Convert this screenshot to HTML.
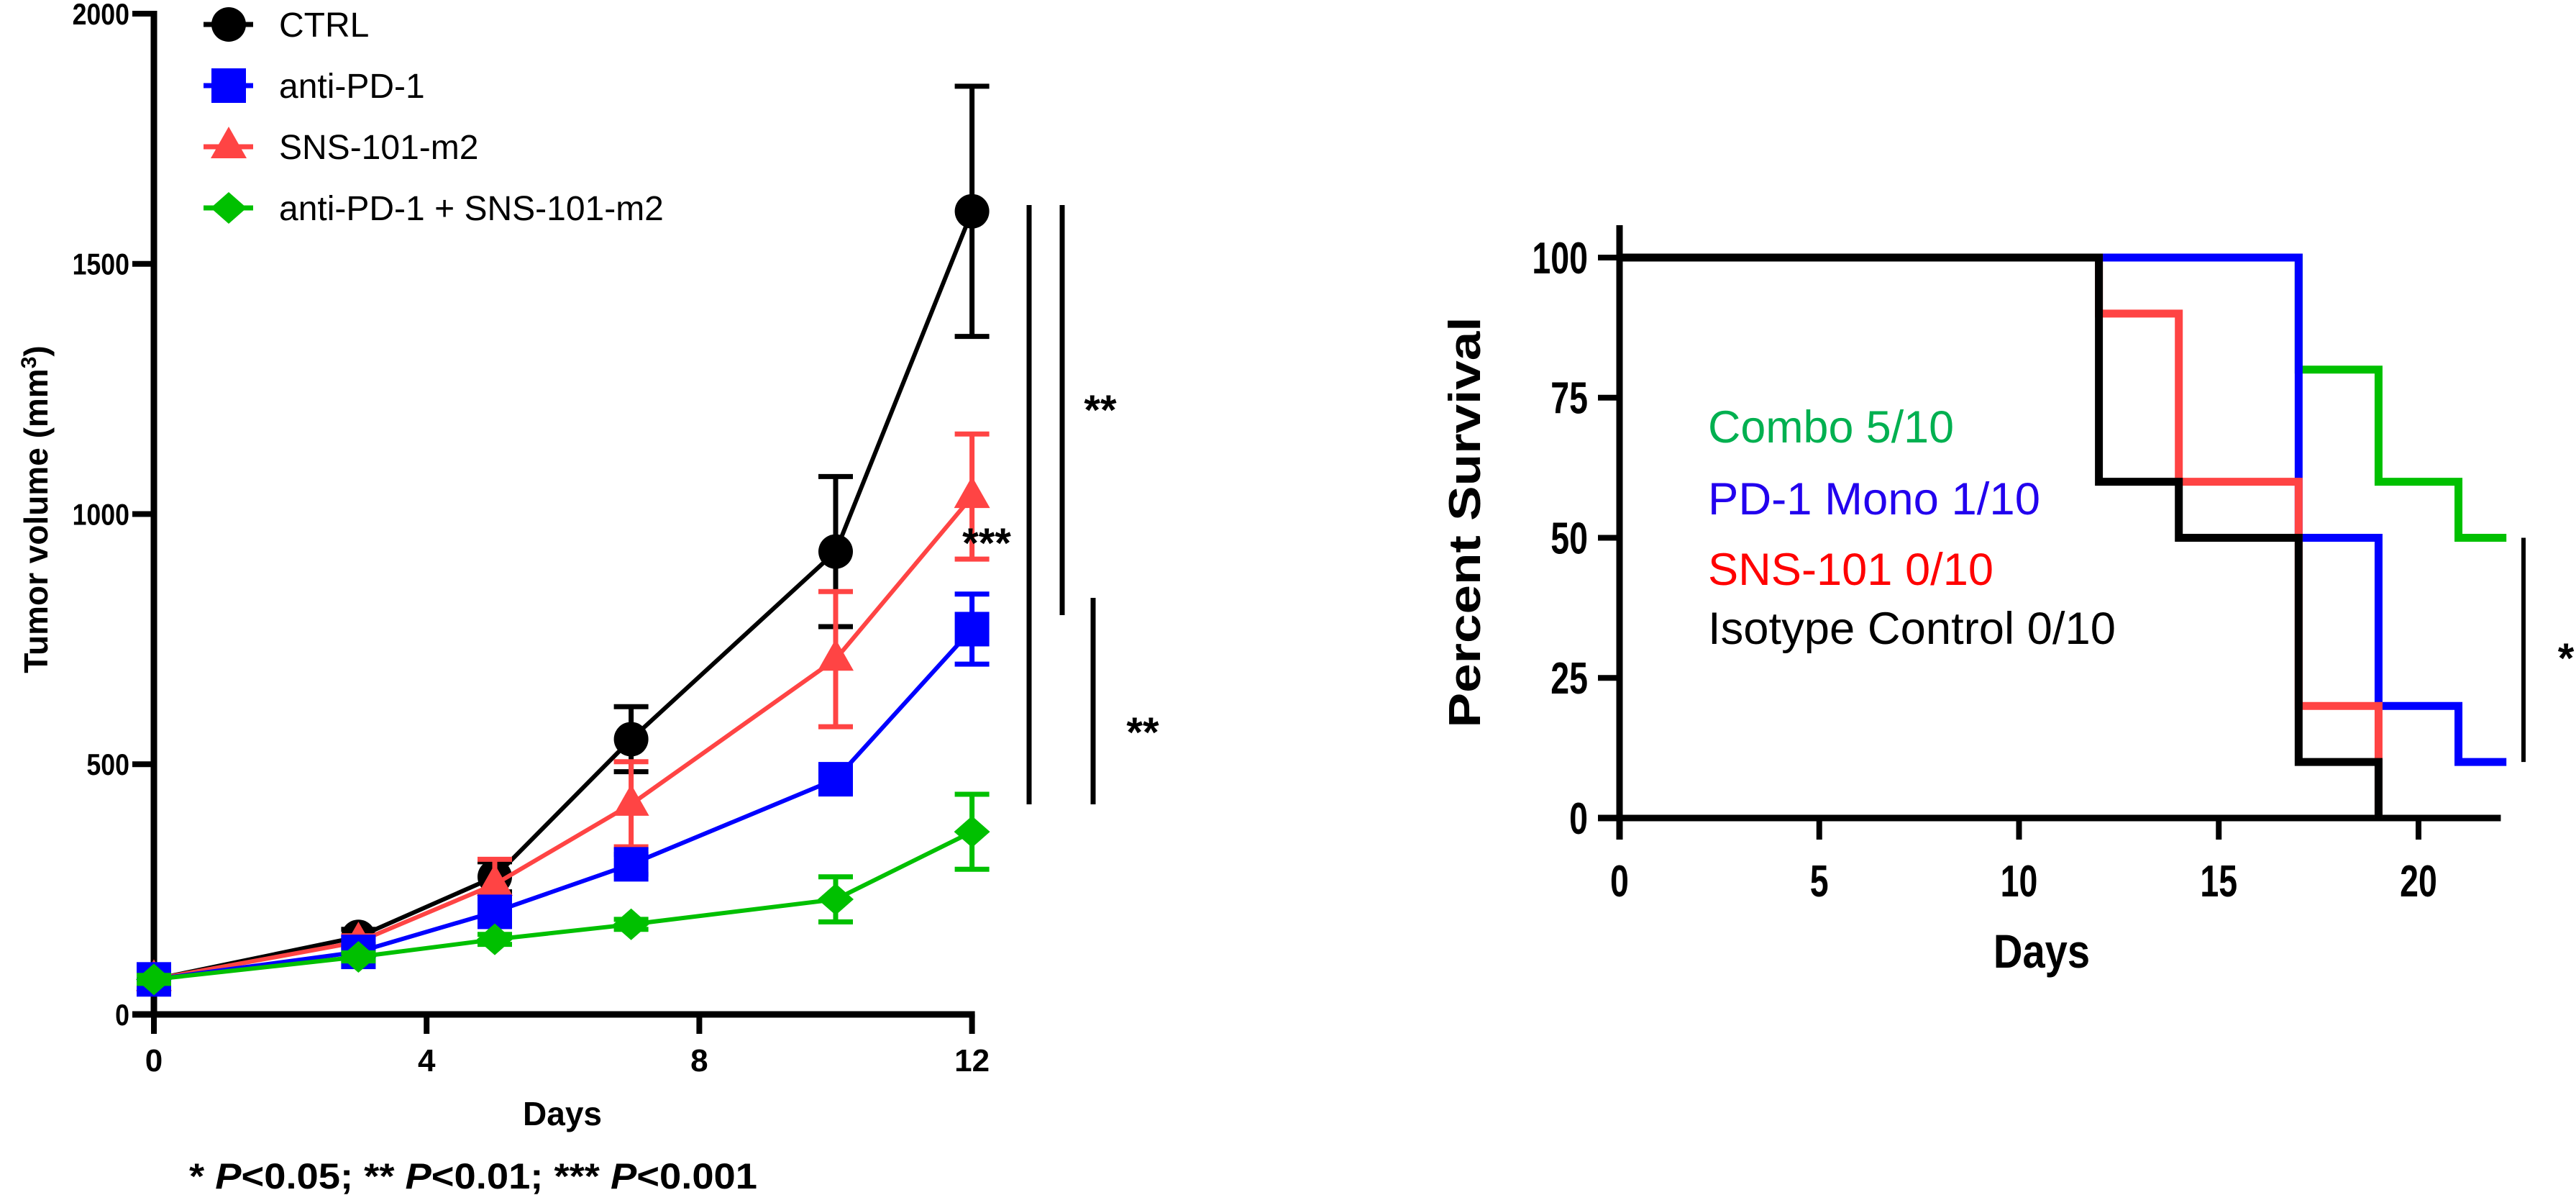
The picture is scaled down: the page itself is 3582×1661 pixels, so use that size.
<!DOCTYPE html>
<html><head><meta charset="utf-8"><style>
html,body{margin:0;padding:0;background:#fff;}
svg{display:block;font-family:"Liberation Sans",Arial,sans-serif;}
</style></head><body>
<svg id="fig" width="3582" height="1661" viewBox="0 0 3582 1661" xmlns="http://www.w3.org/2000/svg">
<g id="left"></g>
<g id="right"></g>
</svg>
<script>
// ---- Left chart data ----
const days = [0, 3, 5, 7, 10, 12];
const ctrlMean = [70, 155, 275, 550, 925, 1605];
const ctrlErr = [10, 15, 30, 65, 150, 250];
const pd1Mean = [70, 125, 205, 300, 470, 770];
const pd1Err = [8, 10, 15, 20, 20, 70];
const snsMean = [70, 145, 260, 420, 710, 1035];
const snsErr = [8, 12, 50, 85, 135, 125];
const comboMean = [70, 115, 150, 180, 230, 365];
const comboErr = [8, 8, 10, 10, 45, 75];
const leftYTicks = [0, 500, 1000, 1500, 2000];
const leftXTicks = [0, 4, 8, 12];
const legendLabels = ["CTRL", "anti-PD-1", "SNS-101-m2", "anti-PD-1 + SNS-101-m2"];

// ---- Right chart data ----
const survTimes = [0, 12, 14, 17, 19, 21, 22.2];
const comboSurv = [100, 100, 100, 80, 60, 50, 50];
const pd1Surv = [100, 100, 100, 50, 20, 10, 10];
const snsSurv = [100, 90, 60, 20, 0, null, null];
const isoSurv = [100, 60, 50, 10, 0, null, null];
const rightYTicks = [0, 25, 50, 75, 100];
const rightXTicks = [0, 5, 10, 15, 20];

const NS = "http://www.w3.org/2000/svg";
function mk(parent, tag, attrs, text) {
  const e = document.createElementNS(NS, tag);
  for (const k in attrs) e.setAttribute(k, attrs[k]);
  if (text !== undefined) e.textContent = text;
  parent.appendChild(e);
  return e;
}

const BLUE = "#0000ff", RED = "#ff4444", GREEN = "#00c000", BLACK = "#000";

// ===== LEFT =====
const L = document.getElementById("left");
const lx = d => 214 + d * 94.8;
const ly = v => 1410 - v * 0.6955;
let e;
e = mk(L, "line", {x1: lx(0), y1: ly(2000) - 4, x2: lx(0), y2: ly(0) + 4, stroke: BLACK, "stroke-width": 9});


e = mk(L, "line", {x1: lx(0) - 30, y1: ly(0), x2: lx(12) + 4, y2: ly(0), stroke: BLACK, "stroke-width": 9});


leftYTicks.forEach(t => {
  e = mk(L, "line", {x1: lx(0) - 30, y1: ly(t), x2: lx(0), y2: ly(t), stroke: BLACK, "stroke-width": 8});
  
  
  e = mk(L, "text", {x: lx(0) - 34, y: ly(t) + 15, "text-anchor": "end", "font-size": 42, "font-weight": "bold", transform: `translate(${lx(0)-34} ${ly(t)+15}) scale(0.85 1) translate(${-(lx(0)-34)} ${-(ly(t)+15)})`}, t);
  
  
});
leftXTicks.forEach(t => {
  e = mk(L, "line", {x1: lx(t), y1: ly(0), x2: lx(t), y2: ly(0) + 27, stroke: BLACK, "stroke-width": 8});
  
  
  e = mk(L, "text", {x: lx(t), y: 1489, "text-anchor": "middle", "font-size": 44, "font-weight": "bold"}, t);
  
  
});
e = mk(L, "text", {x: 782, y: 1564, "text-anchor": "middle", "font-size": 46, "font-weight": "bold"}, "Days");


e = mk(L, "text", {x: 0, y: 0, "text-anchor": "middle", "font-size": 46, "font-weight": "bold", transform: "translate(66 708) rotate(-90)"});


e.innerHTML = 'Tumor volume (mm<tspan dy="-16" font-size="30">3</tspan><tspan dy="16">)</tspan>';

e = mk(L, "text", {x: 263, y: 1652, "font-size": 50, "font-weight": "bold", textLength: 790, lengthAdjust: "spacingAndGlyphs"});


e.innerHTML = '* <tspan font-style="italic">P</tspan>&lt;0.05; ** <tspan font-style="italic">P</tspan>&lt;0.01; *** <tspan font-style="italic">P</tspan>&lt;0.001';

function marker(g, shape, cx, cy, color, name) {
  let m;
  if (shape === "circle") m = mk(g, "circle", {cx, cy, r: 24, fill: color});
  else if (shape === "square") m = mk(g, "rect", {x: cx - 24, y: cy - 24, width: 48, height: 48, fill: color});
  else if (shape === "tri") m = mk(g, "polygon", {points: `${cx},${cy-28} ${cx+25},${cy+16} ${cx-25},${cy+16}`, fill: color});
  else m = mk(g, "polygon", {points: `${cx},${cy-22} ${cx+25},${cy} ${cx},${cy+22} ${cx-25},${cy}`, fill: color});
  
  
}

const series = [
  {mean: comboMean, err: comboErr, color: GREEN, shape: "diamond", name: "combo"},
  {mean: pd1Mean, err: pd1Err, color: BLUE, shape: "square", name: "anti-pd-1"},
  {mean: snsMean, err: snsErr, color: RED, shape: "tri", name: "sns-101-m2"},
  {mean: ctrlMean, err: ctrlErr, color: BLACK, shape: "circle", name: "ctrl"},
];
series.slice().reverse().forEach(s => {
  const g = mk(L, "g", {});
  
  
  days.forEach((d, i) => {
    const x = lx(d);
    e = mk(g, "path", {d: `M${x-24},${ly(s.mean[i]+s.err[i])}H${x+24}M${x},${ly(s.mean[i]+s.err[i])}V${ly(s.mean[i]-s.err[i])}M${x-24},${ly(s.mean[i]-s.err[i])}H${x+24}`, stroke: s.color, "stroke-width": 7, fill: "none"});
    
    
  });
  e = mk(g, "polyline", {points: days.map((d, i) => `${lx(d)},${ly(s.mean[i])}`).join(" "), stroke: s.color, "stroke-width": 6, fill: "none"});
  
  
  days.forEach((d, i) => marker(g, s.shape, lx(d), ly(s.mean[i]), s.color, 'point-' + s.name));
});

const legSeries = [series[3], series[1], series[2], series[0]];
const legY = [34, 119, 204, 289];
legSeries.forEach((s, i) => {
  const g = mk(L, "g", {});
  
  
  e = mk(g, "line", {x1: 283, y1: legY[i], x2: 352, y2: legY[i], stroke: s.color, "stroke-width": 7});
  
  
  marker(g, s.shape, 318, legY[i], s.color, 'legend-marker');
  e = mk(g, "text", {x: 388, y: legY[i] + 17, "font-size": 48}, legendLabels[i]);
  
  
});

[[1431, 285, 1118], [1477, 285, 855], [1520, 831, 1118]].forEach(b => {
  e = mk(L, "line", {x1: b[0], y1: b[1], x2: b[0], y2: b[2], stroke: BLACK, "stroke-width": 7});
  
  
});
[[1372, 775, "***"], [1530, 590, "**"], [1589, 1038, "**"]].forEach(t => {
  e = mk(L, "text", {x: t[0], y: t[1], "text-anchor": "middle", "font-size": 58, "font-weight": "bold"}, t[2]);
  
  
});

// ===== RIGHT =====
const R = document.getElementById("right");
const rx = d => 2252 + d * 55.55;
const ry = v => 1137 - v * 7.79;
e = mk(R, "line", {x1: rx(0), y1: 313, x2: rx(0), y2: ry(0) + 30, stroke: BLACK, "stroke-width": 9});


e = mk(R, "line", {x1: rx(0) - 30, y1: ry(0), x2: rx(22.06), y2: ry(0), stroke: BLACK, "stroke-width": 9});


rightYTicks.forEach(t => {
  e = mk(R, "line", {x1: rx(0) - 30, y1: ry(t), x2: rx(0), y2: ry(t), stroke: BLACK, "stroke-width": 8});
  
  
  e = mk(R, "text", {x: rx(0) - 44, y: ry(t) + 22, "text-anchor": "end", "font-size": 62, "font-weight": "bold", transform: `translate(${rx(0)-44} ${ry(t)+22}) scale(0.75 1) translate(${-(rx(0)-44)} ${-(ry(t)+22)})`}, t);
  
  
});
rightXTicks.forEach(t => {
  e = mk(R, "line", {x1: rx(t), y1: ry(0), x2: rx(t), y2: ry(0) + 30, stroke: BLACK, "stroke-width": 8});
  
  
  e = mk(R, "text", {x: rx(t), y: 1246, "text-anchor": "middle", "font-size": 62, "font-weight": "bold", transform: `translate(${rx(t)} 1246) scale(0.75 1) translate(${-rx(t)} -1246)`}, t);
  
  
});
e = mk(R, "text", {x: 2839, y: 1345, "text-anchor": "middle", "font-size": 66, "font-weight": "bold", transform: "translate(2839 1345) scale(0.85 1) translate(-2839 -1345)"}, "Days");


e = mk(R, "text", {x: 0, y: 0, "text-anchor": "middle", "font-size": 62, "font-weight": "bold", textLength: 571, lengthAdjust: "spacingAndGlyphs", transform: "translate(2058 726) rotate(-90)"}, "Percent Survival");



function stepPath(vals) {
  let d = "";
  for (let i = 0; i < vals.length; i++) {
    if (vals[i] === null) break;
    const x = rx(survTimes[i]);
    if (i === 0) d += `M${x},${ry(vals[i])}`;
    else d += `V${ry(vals[i])}`;
    if (i + 1 < vals.length && vals[i + 1] !== null) d += `H${rx(survTimes[i + 1])}`;
  }
  return d;
}
[[comboSurv, GREEN, "combo"], [pd1Surv, BLUE, "pd-1-mono"], [snsSurv, RED, "sns-101"], [isoSurv, BLACK, "isotype-control"]].forEach(s => {
  e = mk(R, "path", {d: stepPath(s[0]), stroke: s[1], "stroke-width": 11, fill: "none"});
  
  
});

[["Combo 5/10", "#00b050", 615, 342], ["PD-1 Mono 1/10", "#2200ee", 715, 462], ["SNS-101 0/10", "#ff0000", 813, 397], ["Isotype Control 0/10", BLACK, 895, 567]].forEach(t => {
  e = mk(R, "text", {x: 2375, y: t[2], "font-size": 63, fill: t[1], textLength: t[3], lengthAdjust: "spacingAndGlyphs"}, t[0]);
  
  
});

e = mk(R, "line", {x1: 3509, y1: ry(50), x2: 3509, y2: ry(10), stroke: BLACK, "stroke-width": 6});


e = mk(R, "text", {x: 3568, y: 935, "text-anchor": "middle", "font-size": 58, "font-weight": "bold"}, "*");


</script>
</body></html>
